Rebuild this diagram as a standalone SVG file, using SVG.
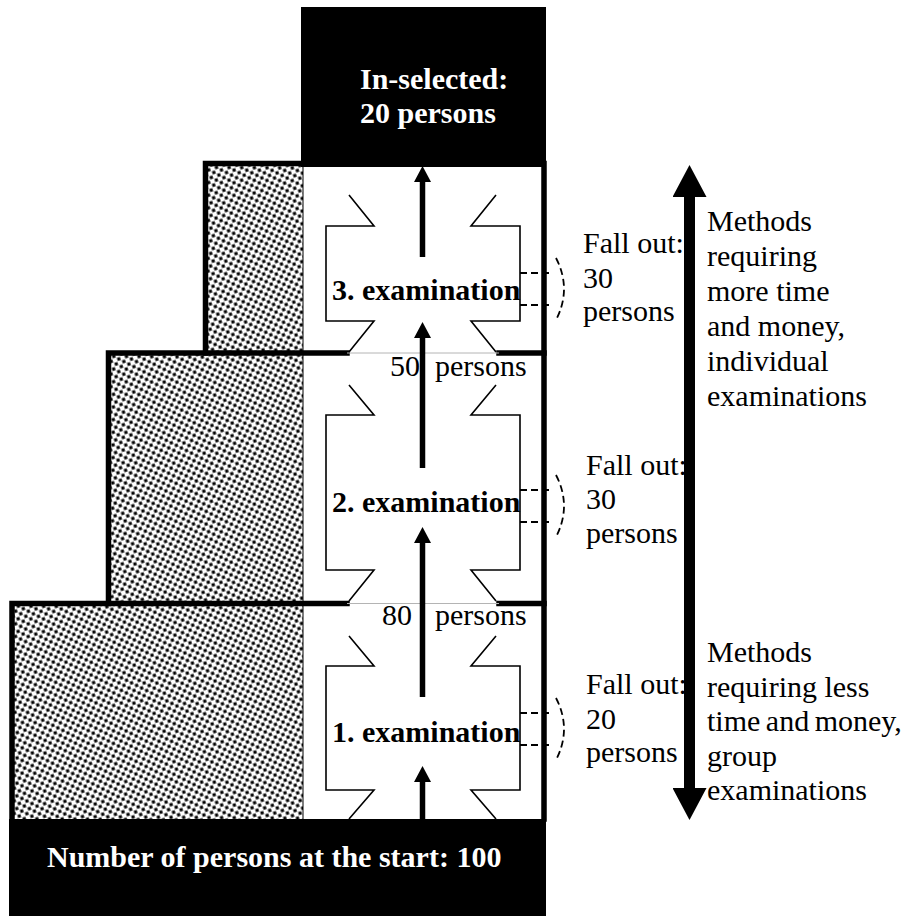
<svg xmlns="http://www.w3.org/2000/svg" width="909" height="916" viewBox="0 0 909 916">
  <style>
    .t { font-family: "Liberation Serif", "Times New Roman", serif; font-size: 30px; fill: #000; }
    .b { font-weight: bold; }
    .w { fill: #fff; }
    .frame { fill: none; stroke: #000; stroke-width: 5.5; stroke-linecap: square; }
    .gap { stroke: #b4b4b4; stroke-width: 1; }
    .box { fill: none; stroke: #000; stroke-width: 1.6; stroke-linejoin: miter; }
    .dash { fill: none; stroke: #000; stroke-width: 1.8; stroke-dasharray: 7 4; }
    .flow { stroke: #000; stroke-width: 5.5; fill: none; }
    .cost { stroke: #000; stroke-width: 11; fill: none; }
  </style>
  <defs>
    <pattern id="stipple" width="8" height="8" patternUnits="userSpaceOnUse" patternTransform="rotate(-18)">
      <rect width="8" height="8" fill="#fff"/>
      <rect x="0.5" y="0.5" width="3.2" height="3.2" fill="#000"/>
      <rect x="4.5" y="4.5" width="3.2" height="3.2" fill="#000"/>
    </pattern>
    <marker id="ah" viewBox="0 0 16 17" refX="0" refY="8.5" markerWidth="16" markerHeight="17" markerUnits="userSpaceOnUse" orient="auto">
      <path d="M0,0 L16,8.5 L0,17 z" fill="#000"/>
    </marker>
    <marker id="bh" viewBox="0 0 32 34" refX="0" refY="17" markerWidth="32" markerHeight="34" markerUnits="userSpaceOnUse" orient="auto-start-reverse">
      <path d="M0,0 L32,17 L0,34 z" fill="#000"/>
    </marker>
  </defs>

  <rect width="909" height="916" fill="#fff"/>

  <!-- stepped pyramid: shaded part of the staircase -->
  <g id="steps">
    <path d="M205.5,163.5 H303 V819 H12 V603.5 H108.5 V353 H205.5 Z" fill="url(#stipple)"/>
    <line x1="303" y1="163" x2="303" y2="819" stroke="#000" stroke-width="1"/>
    <path class="frame" d="M205.5,353 V163.5 H544 V819"/>
    <path class="frame" d="M108.5,603.5 V353 H347"/>
    <path class="frame" d="M12,819 V603.5 H347"/>
    <line class="frame" x1="499" y1="353" x2="544" y2="353"/>
    <line class="frame" x1="499" y1="603.5" x2="544" y2="603.5"/>
    <line class="gap" x1="347" y1="353" x2="499" y2="353"/>
    <line class="gap" x1="347" y1="603.5" x2="499" y2="603.5"/>
  </g>

  <!-- end points -->
  <g id="selected">
    <rect x="301" y="7" width="245" height="160" fill="#000"/>
    <text class="t b w" x="360" y="89">In-selected:</text>
    <text class="t b w" x="360" y="123">20 persons</text>
  </g>
  <g id="start">
    <rect x="9" y="819" width="537" height="97" fill="#000"/>
    <text class="t b w" x="47" y="867">Number of persons at the start: 100</text>
  </g>

  <!-- examination stages -->
  <g id="exam3">
    <path class="box" d="M349,195 L374,226 H326 V321 H374 L349,352"/>
    <path class="box" d="M496,195 L471,226 H520 V321 H471 L496,352"/>
    <text class="t b" x="332" y="300">3. examination</text>
  </g>
  <g id="exam2">
    <path class="box" d="M349,385 L374,415 H326 V570 H374 L349,601"/>
    <path class="box" d="M496,385 L471,415 H520 V570 H471 L496,601"/>
    <text class="t b" x="332" y="512">2. examination</text>
  </g>
  <g id="exam1">
    <path class="box" d="M349,636 L374,666 H326 V790 H374 L349,819"/>
    <path class="box" d="M496,636 L471,666 H520 V790 H471 L496,819"/>
    <text class="t b" x="332" y="742">1. examination</text>
  </g>

  <!-- head counts between stages -->
  <g id="count50">
    <text class="t" x="390" y="376">50</text>
    <text class="t" x="435" y="376">persons</text>
  </g>
  <g id="count80">
    <text class="t" x="382" y="625">80</text>
    <text class="t" x="435" y="625">persons</text>
  </g>

  <!-- drop-outs per stage -->
  <g id="fallout3">
    <path class="dash" d="M520,273 H553 M520,305 H553 M556,258 Q572,289 556,320"/>
    <text class="t" x="583" y="253">Fall out:</text>
    <text class="t" x="583" y="288">30</text>
    <text class="t" x="583" y="321">persons</text>
  </g>
  <g id="fallout2">
    <path class="dash" d="M520,490 H553 M520,522 H553 M556,475 Q572,506 556,537"/>
    <text class="t" x="586" y="475">Fall out:</text>
    <text class="t" x="586" y="509">30</text>
    <text class="t" x="586" y="543">persons</text>
  </g>
  <g id="fallout1">
    <path class="dash" d="M520,713 H553 M520,745 H553 M556,698 Q572,729 556,760"/>
    <text class="t" x="586" y="694">Fall out:</text>
    <text class="t" x="586" y="729">20</text>
    <text class="t" x="586" y="762">persons</text>
  </g>

  <!-- cost scale -->
  <g id="cost-high">
    <text class="t" x="707" y="231">Methods</text>
    <text class="t" x="707" y="266">requiring</text>
    <text class="t" x="707" y="301">more time</text>
    <text class="t" x="707" y="336">and money,</text>
    <text class="t" x="707" y="371">individual</text>
    <text class="t" x="707" y="406">examinations</text>
  </g>
  <g id="cost-low">
    <text class="t" x="707" y="662">Methods</text>
    <text class="t" x="707" y="697">requiring less</text>
    <text class="t" x="707" y="731" word-spacing="-2">time and money,</text>
    <text class="t" x="707" y="766">group</text>
    <text class="t" x="707" y="800">examinations</text>
  </g>

  <!-- connectors -->
  <g id="connectors">
    <line class="flow" x1="422.5" y1="257" x2="422.5" y2="182" marker-end="url(#ah)"/>
    <line class="flow" x1="422.5" y1="468" x2="422.5" y2="338" marker-end="url(#ah)"/>
    <line class="flow" x1="422.5" y1="697" x2="422.5" y2="543" marker-end="url(#ah)"/>
    <line class="flow" x1="422.5" y1="819" x2="422.5" y2="782" marker-end="url(#ah)"/>
    <line class="cost" x1="689.5" y1="788" x2="689.5" y2="197" marker-start="url(#bh)" marker-end="url(#bh)"/>
  </g>
</svg>
